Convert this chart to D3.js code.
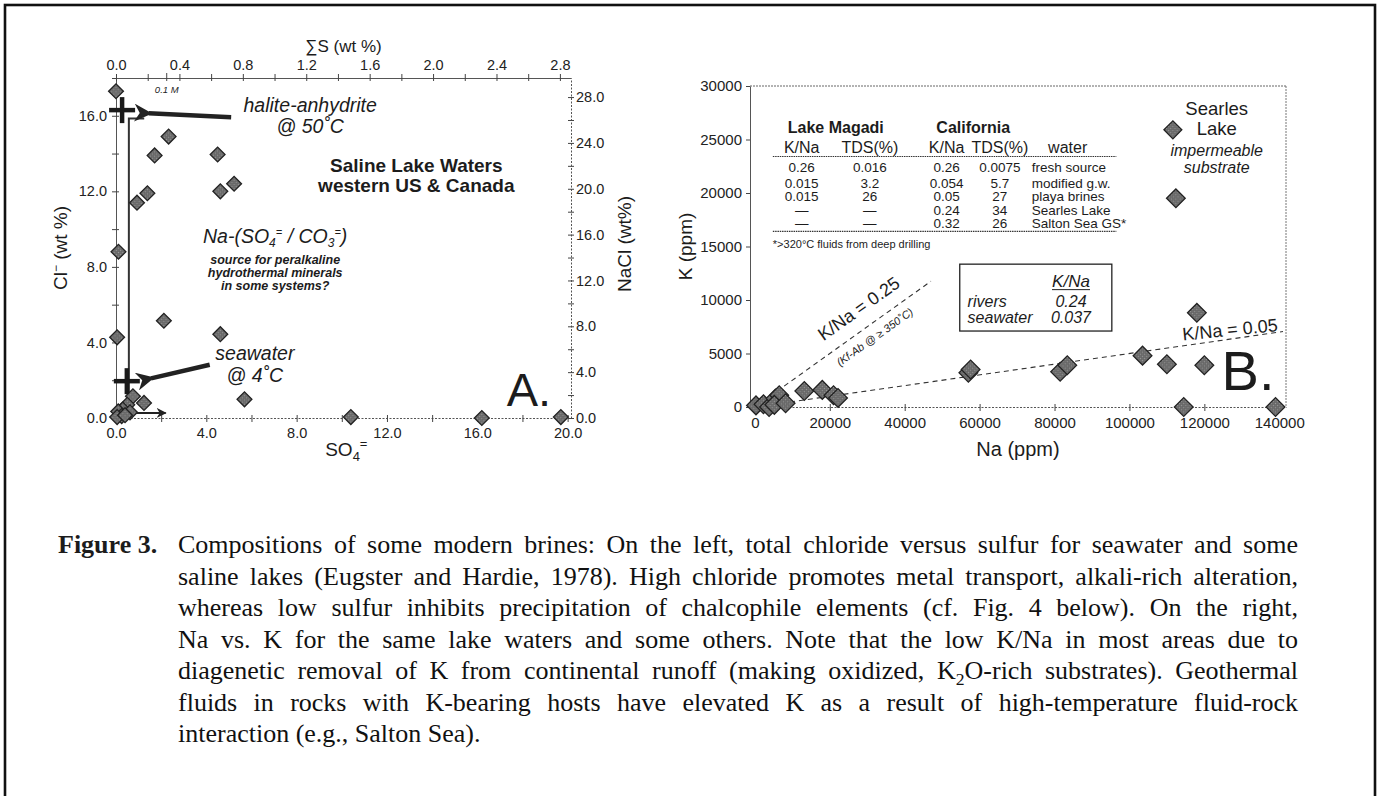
<!DOCTYPE html>
<html><head><meta charset="utf-8">
<script src="https://cdn.jsdelivr.net/npm/d3@7"></script>
<style>
html,body{margin:0;padding:0;background:#fff;}
svg{display:block;}
</style></head><body>
<svg id="fig" width="1380" height="796"></svg>
<script>
// ---------------- DATA ----------------
// Panel A: SO4= (wt%) vs Cl- (wt%)
const leftSO4 = [0.0, 2.33, 1.71, 4.50, 0.93, 1.39, 4.62, 5.23, 0.11, 2.12, 0.05, 4.62, 5.69, 10.4, 16.2, 19.7,
                 0.75, 1.24, 0.50, 0.30, 0.62, 0.10, 0.25, 0.05, 0.40];
const leftCl  = [17.3, 14.9, 13.9, 13.95, 11.4, 11.9, 12.0, 12.4, 8.8, 5.15, 4.27, 4.44, 0.99, 0.05, 0.0, 0.05,
                 1.15, 0.80, 0.70, 0.45, 0.30, 0.35, 0.10, 0.05, 0.15];
const refNames = ["halite-anhydrite", "seawater"];
const refSO4 = [0.27, 0.48];
const refCl  = [16.3, 1.95];

// Panel B: Na (ppm) vs K (ppm)
const rightNa = [300, 2300, 3800, 5500, 6500, 5200, 8200, 13200, 18000, 21000, 22200, 57000, 57600,
                 81500, 83400, 103500, 110000, 112400, 114500, 118000, 120000, 139000];
const rightK  = [150, 250, 0, 800, 1100, 200, 350, 1500, 1600, 1100, 850, 3200, 3500,
                 3300, 3900, 4800, 4000, 19500, 0, 8800, 3900, 0];
const kNaRatios = [0.25, 0.05];
const kNaLineFrom = [0, 7000];
const kNaLineTo = [47000, 141000];
const kNaLabels = ["K/Na = 0.25", "K/Na = 0.05"];

// tick values
const sumSTicks = [0, 0.2, 0.4, 0.6, 0.8, 1.0, 1.2, 1.4, 1.6, 1.8, 2.0, 2.2, 2.4, 2.6, 2.8];
const so4Ticks = [0, 2, 4, 6, 8, 10, 12, 14, 16, 18, 20];
const clTicks = [0, 2, 4, 6, 8, 10, 12, 14, 16, 18];
const naclTicks = [0, 2, 4, 6, 8, 10, 12, 14, 16, 18, 20, 22, 24, 26, 28];
const naTicks = [0, 20000, 40000, 60000, 80000, 100000, 120000, 140000];
const kTicks = [0, 5000, 10000, 15000, 20000, 25000, 30000];

// table in panel B
const tableGroups = ["Lake Magadi", "California"];
const tableHeader = ["K/Na", "TDS(%)", "K/Na", "TDS(%)", "water"];
const magadiKNa = ["0.26", "0.015", "0.015", "\u2014", "\u2014"];
const magadiTDS = ["0.016", "3.2", "26", "\u2014", "\u2014"];
const califKNa = ["0.26", "0.054", "0.05", "0.24", "0.32"];
const califTDS = ["0.0075", "5.7", "27", "34", "26"];
const waterTypes = ["fresh source", "modified g.w.", "playa brines", "Searles Lake", "Salton Sea GS*"];
const tableNote = "*>320\u00B0C fluids from deep drilling";
const insetLabels = ["rivers", "seawater"];
const insetKNa = ["0.24", "0.037"];

const captionLines = [
  [{t:"Compositions of some modern brines: On the left, total chloride versus sulfur for seawater and some"}],
  [{t:"saline lakes (Eugster and Hardie, 1978). High chloride promotes metal transport, alkali-rich alteration,"}],
  [{t:"whereas low sulfur inhibits precipitation of chalcophile elements (cf. Fig. 4 below). On the right,"}],
  [{t:"Na vs. K for the same lake waters and some others. Note that the low K/Na in most areas due to"}],
  [{t:"diagenetic removal of K from continental runoff (making oxidized, K"},{t:"2",sub:true},{t:"O-rich substrates). Geothermal"}],
  [{t:"fluids in rocks with K-bearing hosts have elevated K as a result of high-temperature fluid-rock"}],
  [{t:"interaction (e.g., Salton Sea)."}]
];

// ---------------- DRAWING ----------------
const FONT = '"Liberation Sans", Arial, Helvetica, sans-serif';
const SERIF = '"Liberation Serif", "Times New Roman", serif';
const INK = "#1c1c1c";
const svg = d3.select("#fig");
svg.append("rect").attr("width",1380).attr("height",796).attr("fill","#fff");
svg.append("rect").attr("x",5).attr("y",5).attr("width",1370).attr("height",820)
   .attr("fill","none").attr("stroke","#111").attr("stroke-width",2.6);

// speckled fill for the diamonds
const defs = svg.append("defs");
const pat = defs.append("pattern").attr("id","speck").attr("width",3).attr("height",3)
  .attr("patternUnits","userSpaceOnUse");
pat.append("rect").attr("width",3).attr("height",3).attr("fill","#666");
pat.append("rect").attr("x",0).attr("y",0).attr("width",1).attr("height",1).attr("fill","#9a9a9a");
pat.append("rect").attr("x",1.5).attr("y",1.5).attr("width",1).attr("height",1).attr("fill","#8a8a8a");

function txt(g, x, y, s, o) {
  o = o || {};
  return g.append("text").attr("x",x).attr("y",y).text(s)
    .style("font-family", o.family || FONT).style("font-size", (o.size||14)+"px")
    .style("font-style", o.italic ? "italic" : "normal").style("font-weight", o.bold ? "bold" : "normal")
    .attr("text-anchor", o.anchor || "start").attr("fill", o.fill || INK);
}
function styleAxis(g, fs, dash) {
  g.attr("font-family", null).attr("font-size", null);
  g.select(".domain").attr("stroke","#555").attr("stroke-width",1).attr("stroke-dasharray", dash || null);
  g.selectAll(".tick line").attr("stroke","#444").attr("stroke-width",1);
  g.selectAll(".tick text").attr("fill","#222").style("font-family",FONT).style("font-size",fs+"px");
}
const diamond = (area) => d3.symbol().type(d3.symbolSquare).size(area);

// ===== Panel A =====
const L = {x0:116, x1:571, y0:78, y1:418};
const xL = d3.scaleLinear().domain([0, 20.15]).range([L.x0, L.x1]);
const yL = d3.scaleLinear().domain([0, 18]).range([L.y1, L.y0]);
const sL = d3.scaleLinear().domain([0, 2.87]).range([L.x0, L.x1]);
const nL = d3.scaleLinear().domain([0, 18*1.648]).range([L.y1, L.y0]);
const gA = svg.append("g");

const axL = gA.append("g").attr("transform",`translate(${L.x0},0)`)
  .call(d3.axisLeft(yL).tickValues(clTicks).tickSizeInner(4).tickSizeOuter(0).tickPadding(5)
        .tickFormat(d => d % 4 === 0 ? d.toFixed(1) : ""));
styleAxis(axL, 14.5); axL.selectAll(".tick line").attr("x1", 3);
const axT = gA.append("g").attr("transform",`translate(0,${L.y0})`)
  .call(d3.axisTop(sL).tickValues(sumSTicks).tickSizeInner(4).tickSizeOuter(0).tickPadding(4)
        .tickFormat((d,i) => i % 2 === 0 ? d.toFixed(1) : ""));
styleAxis(axT, 14.5); axT.selectAll(".tick line").attr("y1", 3);
const axB = gA.append("g").attr("transform",`translate(0,${L.y1})`)
  .call(d3.axisBottom(xL).tickValues(so4Ticks).tickSizeInner(4).tickSizeOuter(0).tickPadding(6)
        .tickFormat(d => d % 4 === 0 ? d.toFixed(1) : ""));
styleAxis(axB, 14.5, "2,1.5"); axB.selectAll(".tick line").attr("y1", -3);
const axR = gA.append("g").attr("transform",`translate(${L.x1},0)`)
  .call(d3.axisRight(nL).tickValues(naclTicks).tickSizeInner(3).tickSizeOuter(0).tickPadding(2)
        .tickFormat(d => d % 4 === 0 ? d.toFixed(1) : ""));
styleAxis(axR, 14.5, "2,1.5"); axR.selectAll(".tick line").attr("x1", -3);

// 0.1 M marker on top axis
gA.append("line").attr("x1", sL(0.32)).attr("x2", sL(0.32)).attr("y1", L.y0-5).attr("y2", L.y0+3).attr("stroke","#444");
txt(gA, sL(0.32), L.y0+15, "0.1 M", {size:9.5, italic:true, anchor:"middle"});

// axis titles
txt(gA, (L.x0+L.x1)/2, 52, "\u2211S (wt %)", {size:17, anchor:"middle"});
const tCl = gA.append("text").attr("transform",`translate(67,${(L.y0+L.y1)/2}) rotate(-90)`)
  .attr("text-anchor","middle").style("font-family",FONT).style("font-size","19px").attr("fill",INK);
tCl.append("tspan").text("Cl");
tCl.append("tspan").attr("dy",-7).style("font-size","12px").text("\u2212");
tCl.append("tspan").attr("dy",7).text(" (wt %)");
gA.append("text").attr("transform",`translate(631,${(L.y0+L.y1)/2 - 4}) rotate(-90)`)
  .attr("text-anchor","middle").style("font-family",FONT).style("font-size","19px").attr("fill",INK)
  .text("NaCl (wt%)");
const tSO4 = gA.append("text").attr("x", xL(10.2)).attr("y", 456).attr("text-anchor","middle")
  .style("font-family",FONT).style("font-size","19px").attr("fill",INK);
tSO4.append("tspan").text("SO");
tSO4.append("tspan").attr("dy",5).style("font-size","13px").text("4");
tSO4.append("tspan").attr("dy",-13).style("font-size","13px").text("=");

// bracket / path lines
const brX = 0.57, brTop = 15.85, brBot = 0.27;
gA.append("path").attr("fill","none").attr("stroke","#333").attr("stroke-width",2)
  .attr("d", d3.line()([[xL(1.25), yL(brTop)], [xL(brX), yL(brTop)], [xL(brX), yL(brBot)], [xL(2.0), yL(brBot)]]));
defs.append("marker").attr("id","ahBig").attr("viewBox","0 0 10 10").attr("refX",2).attr("refY",5)
  .attr("markerWidth",4.2).attr("markerHeight",4).attr("orient","auto-start-reverse")
  .append("path").attr("d","M10,0 L0,5 L10,10 L7,5 Z").attr("fill","#222");
defs.append("marker").attr("id","ahSmall").attr("viewBox","0 0 10 10").attr("refX",9).attr("refY",5)
  .attr("markerWidth",5).attr("markerHeight",5).attr("orient","auto")
  .append("path").attr("d","M0,0 L10,5 L0,10 L3,5 Z").attr("fill","#222");
gA.append("line").attr("x1", xL(brX)).attr("y1", yL(brBot)).attr("x2", xL(2.2)).attr("y2", yL(brBot))
  .attr("stroke","#222").attr("stroke-width",2).attr("marker-end","url(#ahSmall)");
const arrowsA = [{from:[5.1,15.92], to:[1.45,16.13]}, {from:[4.15,2.82], to:[1.55,2.1]}];
arrowsA.forEach(a => gA.append("line")
  .attr("x1", xL(a.to[0])).attr("y1", yL(a.to[1])).attr("x2", xL(a.from[0])).attr("y2", yL(a.from[1]))
  .attr("stroke","#222").attr("stroke-width",4.5).attr("marker-start","url(#ahBig)"));

// data diamonds
gA.selectAll("path.ptA").data(leftSO4.map((s,i)=>[s,leftCl[i]])).join("path").attr("class","ptA")
  .attr("d", diamond(110)()).attr("transform", d => `translate(${xL(d[0])},${yL(d[1])}) rotate(45)`)
  .attr("fill","url(#speck)").attr("stroke","#222").attr("stroke-width",1.3);

// reference crosses
refSO4.forEach((s,i) => {
  const cx = xL(s), cy = yL(refCl[i]);
  gA.append("line").attr("x1",cx-13).attr("x2",cx+13).attr("y1",cy).attr("y2",cy).attr("stroke","#1a1a1a").attr("stroke-width",4.5);
  gA.append("line").attr("x1",cx).attr("x2",cx).attr("y1",cy-13).attr("y2",cy+13).attr("stroke","#1a1a1a").attr("stroke-width",4.5);
});

// annotations panel A
txt(gA, xL(8.6), yL(16.2), "halite-anhydrite", {size:19.5, italic:true, anchor:"middle"});
txt(gA, xL(8.6), yL(15.08), "@ 50\u02DAC", {size:19.5, italic:true, anchor:"middle"});
txt(gA, xL(13.3), yL(13.05), "Saline Lake Waters", {size:19, bold:true, anchor:"middle"});
txt(gA, xL(13.3), yL(11.95), "western US & Canada", {size:19, bold:true, anchor:"middle"});
const tNa = gA.append("text").attr("x", xL(7.05)).attr("y", yL(9.25)).attr("text-anchor","middle")
  .style("font-family",FONT).style("font-size","19.5px").style("font-style","italic").attr("fill",INK);
tNa.append("tspan").text("Na-(SO");
tNa.append("tspan").attr("dy",4).style("font-size","12px").text("4");
tNa.append("tspan").attr("dy",-11).style("font-size","11px").text("=");
tNa.append("tspan").attr("dy",7).text(" / CO");
tNa.append("tspan").attr("dy",4).style("font-size","12px").text("3");
tNa.append("tspan").attr("dy",-11).style("font-size","11px").text("=");
tNa.append("tspan").attr("dy",7).text(")");
["source for peralkaline","hydrothermal minerals","in some systems?"].forEach((s,i) =>
  txt(gA, xL(7.05), yL(8.15 - i*0.69), s, {size:12.5, italic:true, bold:true, anchor:"middle"}));
txt(gA, xL(6.15), yL(3.05), "seawater", {size:19.5, italic:true, anchor:"middle"});
txt(gA, xL(6.15), yL(1.93), "@ 4\u02DAC", {size:19.5, italic:true, anchor:"middle"});
txt(gA, xL(17.3), yL(0.62), "A.", {size:47});

// ===== Panel B =====
const R = {x0:750, x1:1286, y0:86, y1:407};
const xR = d3.scaleLinear().domain([-1300, 141800]).range([R.x0, R.x1]);
const yR = d3.scaleLinear().domain([0, 30000]).range([R.y1, R.y0]);
const gB = svg.append("g");
gB.append("line").attr("x1",R.x0).attr("x2",R.x1).attr("y1",R.y0).attr("y2",R.y0).attr("stroke","#666").attr("stroke-dasharray","2,1");
gB.append("line").attr("x1",R.x1).attr("x2",R.x1).attr("y1",R.y0).attr("y2",R.y1).attr("stroke","#777").attr("stroke-dasharray","2,1");
const axRL = gB.append("g").attr("transform",`translate(${R.x0},0)`)
  .call(d3.axisLeft(yR).tickValues(kTicks).tickSizeInner(4).tickSizeOuter(0).tickPadding(4).tickFormat(d3.format("d")));
styleAxis(axRL, 15);
const axRB = gB.append("g").attr("transform",`translate(0,${R.y1})`)
  .call(d3.axisBottom(xR).tickValues(naTicks).tickSizeInner(4).tickSizeOuter(0).tickPadding(6).tickFormat(d3.format("d")));
styleAxis(axRB, 15, "2,1.5"); axRB.selectAll(".tick line").attr("y1", -3);
txt(gB, (R.x0+R.x1)/2, 456, "Na (ppm)", {size:20, anchor:"middle"});
gB.append("text").attr("transform",`translate(692,${(R.y0+R.y1)/2}) rotate(-90)`)
  .attr("text-anchor","middle").style("font-family",FONT).style("font-size","19px").attr("fill",INK).text("K (ppm)");

// K/Na reference lines
kNaRatios.forEach((r,i) => {
  gB.append("line").attr("x1", xR(kNaLineFrom[i])).attr("y1", yR(kNaLineFrom[i]*r))
    .attr("x2", xR(kNaLineTo[i])).attr("y2", yR(kNaLineTo[i]*r))
    .attr("stroke","#333").attr("stroke-width",1.1).attr("stroke-dasharray","5,4");
});
const ang = r => Math.atan2(yR(10000*r) - yR(0), xR(10000) - xR(0)) * 180 / Math.PI;
const lab025 = [28700, 8730], lab005 = [127000, 6650], labKf = [32600, 6250];
txt(gB, 0, 0, kNaLabels[0], {size:18, anchor:"middle"})
  .attr("transform", `translate(${xR(lab025[0])},${yR(lab025[1])}) rotate(${ang(0.25)})`);
txt(gB, 0, 0, "(Kf-Ab @ \u2265 350\u02DAC)", {size:11, italic:true, anchor:"middle"})
  .attr("transform", `translate(${xR(labKf[0])},${yR(labKf[1])}) rotate(${ang(0.25)})`);
txt(gB, 0, 0, kNaLabels[1], {size:18, anchor:"middle"})
  .attr("transform", `translate(${xR(lab005[0])},${yR(lab005[1])}) rotate(${ang(0.05)*0.7})`);

// table
const tb = gB.append("g");
const colNa = [12500, 30700, 51200, 65400];
const waterNa = 73900;
const tblLeft = xR(4800), tblRight = xR(96500);
const yTitle = 133, yHead = 153, yRow0 = 172, rowGap = 13.6;
txt(tb, (xR(colNa[0])+xR(colNa[1]))/2, yTitle, tableGroups[0], {size:16, bold:true, anchor:"middle"});
txt(tb, (xR(colNa[2])+xR(colNa[3]))/2, yTitle, tableGroups[1], {size:16, bold:true, anchor:"middle"});
tableHeader.forEach((h,i) => {
  if (i < 4) txt(tb, xR(colNa[i]), yHead, h, {size:16, anchor:"middle"});
  else txt(tb, xR(waterNa) + 36, yHead, h, {size:16, anchor:"middle"});
});
tb.append("line").attr("x1",tblLeft).attr("x2",tblRight).attr("y1",yHead+3.5).attr("y2",yHead+3.5)
  .attr("stroke","#333").attr("stroke-width",1.2).attr("stroke-dasharray","1.5,0.8");
[magadiKNa, magadiTDS, califKNa, califTDS].forEach((col,c) => col.forEach((v,r) =>
  txt(tb, xR(colNa[c]), yRow0 + r*rowGap + (r>0?2:0), v, {size:13.5, anchor:"middle"})));
waterTypes.forEach((v,r) => txt(tb, xR(waterNa), yRow0 + r*rowGap + (r>0?2:0), v, {size:13.5}));
const yRule2 = yRow0 + 4*rowGap + 5;
tb.append("line").attr("x1",tblLeft).attr("x2",tblRight).attr("y1",yRule2).attr("y2",yRule2)
  .attr("stroke","#333").attr("stroke-width",1.2).attr("stroke-dasharray","1.5,0.8");
txt(tb, tblLeft, yRule2 + 17, tableNote, {size:11});

// inset box
const bx0 = xR(54700), bx1 = xR(95300), by0 = yR(13350), by1 = yR(7100);
gB.append("rect").attr("x",bx0).attr("y",by0).attr("width",bx1-bx0).attr("height",by1-by0)
  .attr("fill","#fff").attr("stroke","#222").attr("stroke-width",1.3);
const valX = xR(84400);
txt(gB, valX, yR(11250), "K/Na", {size:17, italic:true, anchor:"middle"});
gB.append("line").attr("x1", valX-19).attr("x2", valX+19).attr("y1", yR(11250)+3).attr("y2", yR(11250)+3).attr("stroke","#222");
insetLabels.forEach((s,i) => {
  txt(gB, xR(56800), yR(9350 - i*1500), s, {size:16, italic:true});
  txt(gB, valX, yR(9350 - i*1500), insetKNa[i], {size:16, italic:true, anchor:"middle"});
});

// Searles legend
txt(gB, xR(123300), 115, "Searles", {size:18.5, anchor:"middle"});
txt(gB, xR(123300), 135, "Lake", {size:18.5, anchor:"middle"});
txt(gB, xR(123300), 155.5, "impermeable", {size:16, italic:true, anchor:"middle"});
txt(gB, xR(123300), 172.5, "substrate", {size:16, italic:true, anchor:"middle"});
gB.append("path").attr("d", diamond(160)()).attr("transform", `translate(${xR(111600)},${yR(25900)}) rotate(45)`)
  .attr("fill","url(#speck)").attr("stroke","#222").attr("stroke-width",1.3);

// data diamonds
gB.selectAll("path.ptB").data(rightNa.map((n,i)=>[n,rightK[i]])).join("path").attr("class","ptB")
  .attr("d", diamond(175)()).attr("transform", d => `translate(${xR(d[0])},${yR(d[1])}) rotate(45)`)
  .attr("fill","url(#speck)").attr("stroke","#222").attr("stroke-width",1.3);
txt(gB, xR(124600), 390, "B.", {size:56});

// ===== Caption =====
const capG = svg.append("g");
const capX = 178, capR = 1298, capY0 = 553, capDY = 31.5;
function drawCaption(fs) {
  capG.selectAll("*").remove();
  const nodes = [];
  captionLines.forEach((segs, i) => {
    const t = capG.append("text").attr("x", capX).attr("y", capY0 + i*capDY)
      .style("font-family", SERIF).style("font-size", fs+"px").attr("fill","#111");
    let shifted = false;
    segs.forEach(s => {
      const sp = t.append("tspan").text(s.t);
      if (s.sub) { sp.attr("dy", fs*0.22).style("font-size", (fs*0.68)+"px"); shifted = true; }
      else if (shifted) { sp.attr("dy", -fs*0.22); shifted = false; }
    });
    nodes.push(t);
  });
  return nodes;
}
let nodes = drawCaption(22);
const avail = capR - capX;
const maxW = d3.max(nodes.slice(0,6), n => n.node().getComputedTextLength());
const fs = Math.max(18, Math.min(26, 22 * avail / maxW * 0.985));
nodes = drawCaption(fs);
nodes.slice(0,6).forEach((n,i) => {
  const w = n.node().getComputedTextLength();
  const full = captionLines[i].map(s => s.t).join("");
  const nsp = (full.match(/ /g) || []).length;
  n.style("word-spacing", ((avail - w) / nsp) + "px");
});
txt(capG, 58, capY0, "Figure 3.", {family: SERIF, size: fs, bold:true});
</script>
</body></html>
